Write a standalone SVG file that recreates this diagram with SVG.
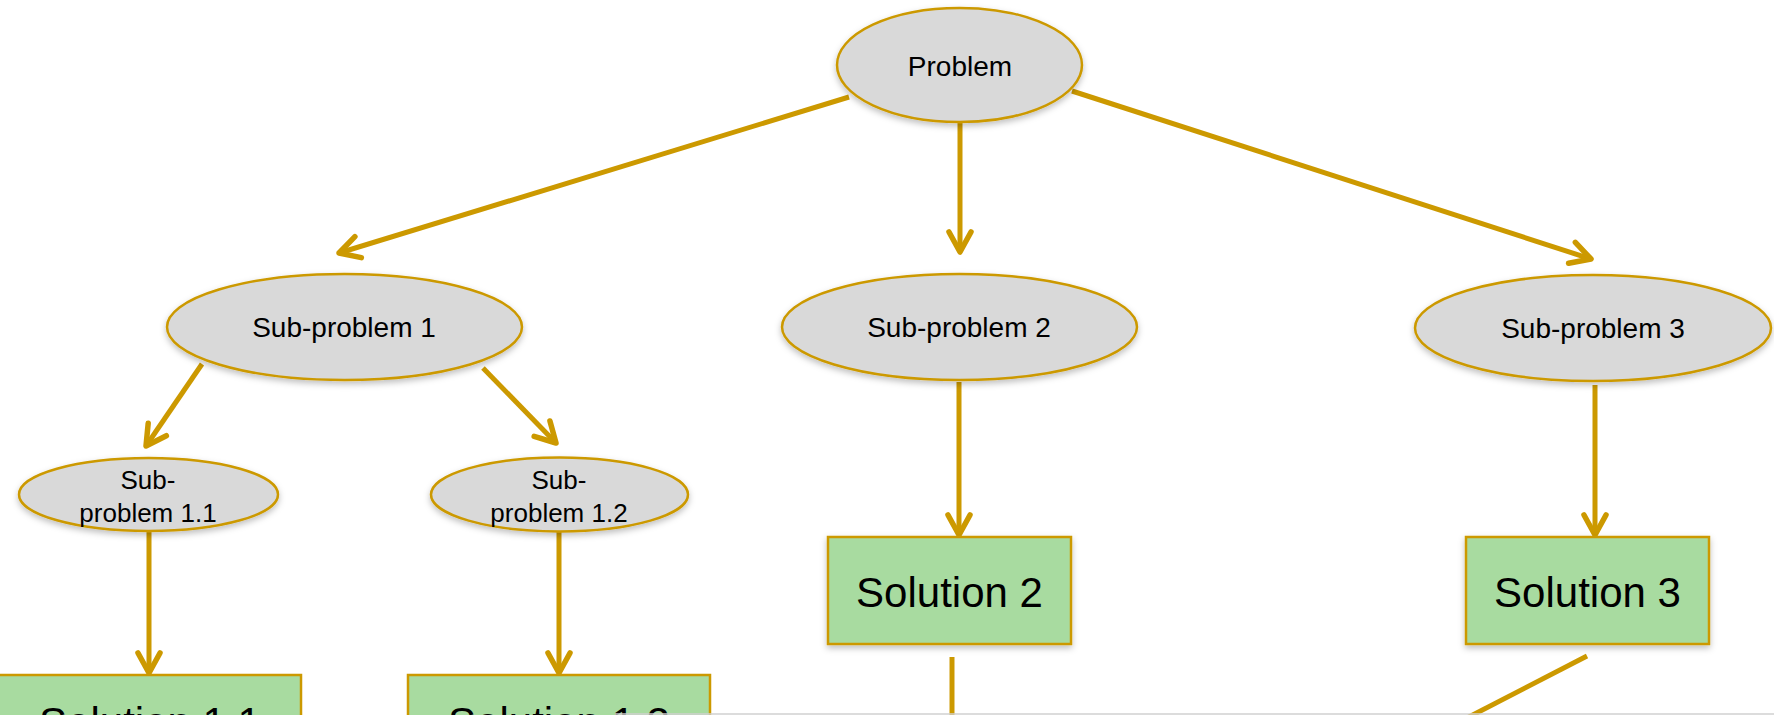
<svg xmlns="http://www.w3.org/2000/svg" width="1774" height="715" viewBox="0 0 1774 715">
<style>
.ell{fill:#D9D9D9;stroke:#CC9900;stroke-width:2.5}
.box{fill:#A8DBA0;stroke:#CC9900;stroke-width:2.5}
.t{font-family:"Liberation Sans",Arial,sans-serif;fill:#000;text-anchor:middle}
.c{stroke:#CC9900;stroke-width:5;fill:none}
</style>
<defs>
<filter id="sh" x="-10%" y="-10%" width="120%" height="130%">
<feDropShadow dx="0" dy="3" stdDeviation="3" flood-color="#000" flood-opacity="0.25"/>
</filter>
<marker id="ah" markerUnits="userSpaceOnUse" markerWidth="40" markerHeight="40" viewBox="-30 -20 40 40" refX="0" refY="0" orient="auto">
<path d="M -20 -11 L 0 0 L -20 11" fill="none" stroke="#CC9900" stroke-width="5.5" stroke-linecap="round" stroke-linejoin="round"/>
</marker>
</defs>
<rect width="1774" height="715" fill="#fff"/>
<g id="connectors">
<line class="c" x1="849" y1="97" x2="339" y2="253" marker-end="url(#ah)"/>
<line class="c" x1="960" y1="123" x2="960" y2="252" marker-end="url(#ah)"/>
<line class="c" x1="1072" y1="91" x2="1591" y2="259" marker-end="url(#ah)"/>
<line class="c" x1="202" y1="364" x2="146" y2="446" marker-end="url(#ah)"/>
<line class="c" x1="483" y1="368" x2="556" y2="443" marker-end="url(#ah)"/>
<line class="c" x1="149" y1="531" x2="149" y2="673" marker-end="url(#ah)"/>
<line class="c" x1="559" y1="532" x2="559" y2="673" marker-end="url(#ah)"/>
<line class="c" x1="959" y1="382" x2="959" y2="535" marker-end="url(#ah)"/>
<line class="c" x1="1595" y1="385" x2="1595" y2="535" marker-end="url(#ah)"/>
<line class="c" x1="952" y1="657" x2="952" y2="720"/>
<line class="c" x1="1587" y1="656" x2="1463" y2="720"/>
</g>
<g id="problem"><ellipse class="ell" filter="url(#sh)" cx="959.5" cy="65" rx="122.5" ry="57"/><text class="t" x="960" y="76" font-size="28">Problem</text></g>
<g id="sub1"><ellipse class="ell" filter="url(#sh)" cx="344.5" cy="327" rx="177.5" ry="53"/><text class="t" x="344" y="337" font-size="28">Sub-problem 1</text></g>
<g id="sub2"><ellipse class="ell" filter="url(#sh)" cx="959.5" cy="327" rx="177.5" ry="53"/><text class="t" x="959" y="337" font-size="28">Sub-problem 2</text></g>
<g id="sub3"><ellipse class="ell" filter="url(#sh)" cx="1593" cy="328" rx="178" ry="53"/><text class="t" x="1593" y="338" font-size="28">Sub-problem 3</text></g>
<g id="sub11"><ellipse class="ell" filter="url(#sh)" cx="148.5" cy="494.5" rx="129.5" ry="36.5"/><text class="t" x="148" y="489" font-size="26">Sub-</text><text class="t" x="148" y="522" font-size="26">problem 1.1</text></g>
<g id="sub12"><ellipse class="ell" filter="url(#sh)" cx="559.5" cy="494.5" rx="128.5" ry="37"/><text class="t" x="559" y="489" font-size="26">Sub-</text><text class="t" x="559" y="522" font-size="26">problem 1.2</text></g>
<g id="sol2"><rect class="box" filter="url(#sh)" x="828" y="537" width="243" height="107"/><text class="t" x="949.5" y="607" font-size="42">Solution 2</text></g>
<g id="sol3"><rect class="box" filter="url(#sh)" x="1466" y="537" width="243" height="107"/><text class="t" x="1587.5" y="607" font-size="42">Solution 3</text></g>
<g id="sol11"><rect class="box" x="-2" y="675" width="303" height="110"/><text class="t" x="150" y="737" font-size="42">Solution 1.1</text></g>
<g id="sol12"><rect class="box" x="408" y="675" width="302" height="110"/><text class="t" x="559" y="737" font-size="42">Solution 1.2</text></g>
<line x1="615" y1="714" x2="1774" y2="714" stroke="#d0d0d0" stroke-width="1.5"/>
</svg>
